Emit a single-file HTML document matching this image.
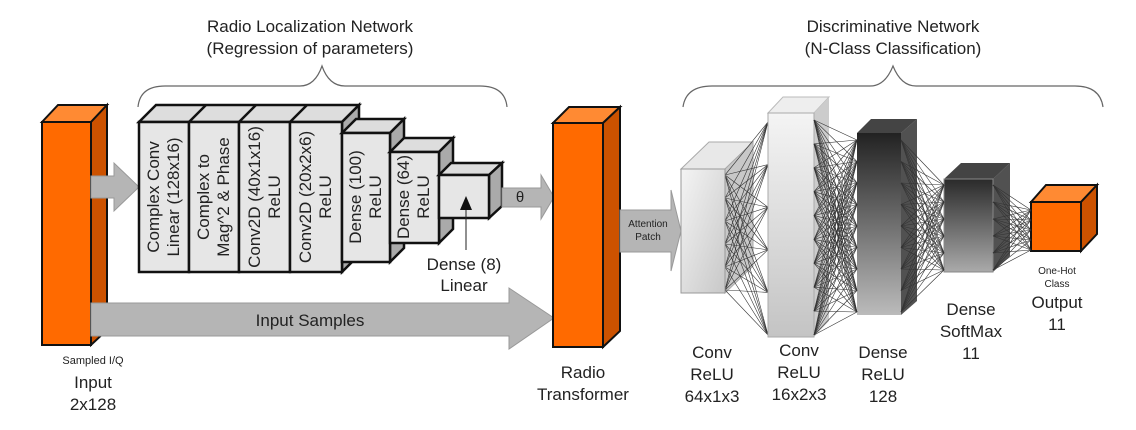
<!DOCTYPE html>
<html><head><meta charset="utf-8"><style>
body{margin:0;background:#fff;width:1136px;height:430px;overflow:hidden}
svg{display:block}
text{font-family:"Liberation Sans",sans-serif;fill:#222}
</style></head><body>
<svg width="1136" height="430" viewBox="0 0 1136 430">
<defs>
<linearGradient id="g1" x1="0" y1="0" x2="1" y2="1"><stop offset="0" stop-color="#f4f4f4"/><stop offset="1" stop-color="#c8c8c8"/></linearGradient>
<linearGradient id="g2" x1="0" y1="0" x2="0" y2="1"><stop offset="0" stop-color="#f4f4f4"/><stop offset="1" stop-color="#c4c4c4"/></linearGradient>
<linearGradient id="g3" x1="0" y1="0" x2="0" y2="1"><stop offset="0" stop-color="#222"/><stop offset="1" stop-color="#bbb"/></linearGradient>
<linearGradient id="g4" x1="0" y1="0" x2="0" y2="1"><stop offset="0" stop-color="#2a2a2a"/><stop offset="1" stop-color="#aaa"/></linearGradient>
</defs>
<text x="310" y="32" font-size="17" text-anchor="middle">Radio Localization Network</text>
<text x="310" y="54" font-size="17" text-anchor="middle">(Regression of parameters)</text>
<text x="893" y="32" font-size="17" text-anchor="middle">Discriminative Network</text>
<text x="893" y="54" font-size="17" text-anchor="middle">(N-Class Classification)</text>
<path d="M138,107 Q140,86 165,86 L300,86 Q315,86 322,66 Q329,86 345,86 L480,86 Q505,86 507,107" fill="none" stroke="#666" stroke-width="1.2"/>
<path d="M683,107 Q686,86 712,86 L870,86 Q885,86 893,66 Q901,86 916,86 L1075,86 Q1100,86 1103,107" fill="none" stroke="#666" stroke-width="1.2"/>

<!-- left orange -->
<polygon points="42,122 58,105 107,105 91,122" fill="#ff8a33" stroke="#111" stroke-width="2"/>
<polygon points="91,122 107,105 107,330 91,345" fill="#cc5200" stroke="#111" stroke-width="2"/>
<rect x="42" y="122" width="49" height="223" fill="#ff6a00" stroke="#111" stroke-width="2"/>
<polygon points="91,176 114,176 114,163 139,187 114,211 114,198 91,198" fill="#b5b5b5" stroke="#999"/>
<polygon points="91,303 509,303 509,288 554,318 509,349 509,336 91,336" fill="#b5b5b5" stroke="#999"/>
<text x="310" y="326" font-size="17" text-anchor="middle">Input Samples</text>

<!-- gray blocks -->
<g stroke="#111" stroke-width="2.5">
<polygon points="139,122 156,105 359,105 342,122" fill="#ddd"/>
<polygon points="342,122 359,105 359,255 342,272" fill="#aaa"/>
<rect x="139" y="122" width="50" height="150" fill="#e6e6e6"/>
<rect x="189" y="122" width="50" height="150" fill="#e6e6e6"/>
<rect x="239" y="122" width="51" height="150" fill="#e6e6e6"/>
<rect x="290" y="122" width="52" height="150" fill="#e6e6e6"/>
<line x1="189" y1="122" x2="206" y2="105"/><line x1="239" y1="122" x2="256" y2="105"/><line x1="290" y1="122" x2="307" y2="105"/>
<polygon points="342,133 356,119 404,119 390,133" fill="#ddd"/>
<polygon points="390,133 404,119 404,248 390,262" fill="#aaa"/>
<rect x="342" y="133" width="48" height="129" fill="#e6e6e6"/>
<polygon points="390,152 404,138 453,138 439,152" fill="#ddd"/>
<polygon points="439,152 453,138 453,229 439,243" fill="#aaa"/>
<rect x="390" y="152" width="49" height="91" fill="#e6e6e6"/>
<polygon points="439,175 451,163 502,163 489,175" fill="#ddd"/>
<polygon points="489,175 502,163 502,206 489,218" fill="#aaa"/>
<rect x="439" y="175" width="50" height="43" fill="#e6e6e6"/>
</g>
<g font-size="17" text-anchor="middle">
<text transform="translate(163,197) rotate(-90)"><tspan x="0" y="-4">Complex Conv</tspan><tspan x="0" y="16">Linear (128x16)</tspan></text>
<text transform="translate(213,197) rotate(-90)"><tspan x="0" y="-4">Complex to</tspan><tspan x="0" y="16">Mag^2  &amp; Phase</tspan></text>
<text transform="translate(264,197) rotate(-90)"><tspan x="0" y="-4">Conv2D (40x1x16)</tspan><tspan x="0" y="16">ReLU</tspan></text>
<text transform="translate(315,197) rotate(-90)"><tspan x="0" y="-4">Conv2D (20x2x6)</tspan><tspan x="0" y="16">ReLU</tspan></text>
<text transform="translate(365,197) rotate(-90)"><tspan x="0" y="-4">Dense (100)</tspan><tspan x="0" y="16">ReLU</tspan></text>
<text transform="translate(413,197) rotate(-90)"><tspan x="0" y="-4">Dense (64)</tspan><tspan x="0" y="16">ReLU</tspan></text>
</g>
<line x1="466" y1="250" x2="466" y2="208" stroke="#222" stroke-width="1"/>
<polygon points="466,196 460,210 472,210" fill="#111"/>
<text x="464" y="270" font-size="17" text-anchor="middle">Dense (8)</text>
<text x="464" y="291" font-size="17" text-anchor="middle">Linear</text>
<polygon points="502,188 541,188 541,175 554,197 541,219 541,207 502,207" fill="#b5b5b5" stroke="#999"/>
<text x="520" y="202" font-size="15" text-anchor="middle">θ</text>

<!-- middle orange -->
<polygon points="553,123 569,107 620,107 603,123" fill="#ff8a33" stroke="#111" stroke-width="2"/>
<polygon points="603,123 620,107 620,331 603,347" fill="#cc5200" stroke="#111" stroke-width="2"/>
<rect x="553" y="123" width="50" height="224" fill="#ff6a00" stroke="#111" stroke-width="2"/>
<text x="583" y="378" font-size="17" text-anchor="middle">Radio</text>
<text x="583" y="400" font-size="17" text-anchor="middle">Transformer</text>
<text x="93" y="364" font-size="11" text-anchor="middle">Sampled I/Q</text>
<text x="93" y="388" font-size="17" text-anchor="middle">Input</text>
<text x="93" y="410" font-size="17" text-anchor="middle">2x128</text>
<polygon points="620,210 671,210 671,190 681,231 671,271 671,252 620,252" fill="#b5b5b5" stroke="#999"/>
<text x="648" y="227" font-size="10" text-anchor="middle">Attention</text>
<text x="648" y="240" font-size="10" text-anchor="middle">Patch</text>

<!-- conv1 -->
<polygon points="681,169 709,142 753,142 725,169" fill="#e8e8e8" stroke="#aaa"/>
<polygon points="725,169 753,142 753,266 725,293" fill="#c8c8c8" stroke="#aaa"/>
<g id="lines" stroke="#333" stroke-width="0.6"></g>
<rect x="681" y="169" width="44" height="124" fill="url(#g1)" stroke="#999"/>
<!-- conv2 -->
<polygon points="768,113 783,97 829,97 814,113" fill="#eee" stroke="#bbb"/>
<polygon points="814,113 829,97 829,321 814,337" fill="#ccc"/>
<rect x="768" y="113" width="46" height="224" fill="url(#g2)" stroke="#aaa"/>
<!-- dense -->
<polygon points="857,133 871,119 917,119 901,133" fill="#444"/>
<polygon points="901,133 917,119 917,301 901,315" fill="#333" opacity="0.85"/>
<rect x="857" y="133" width="44" height="182" fill="url(#g3)"/>
<!-- softmax -->
<polygon points="944,179 961,163 1010,163 993,179" fill="#444"/>
<polygon points="993,179 1010,163 1010,256 993,272" fill="#333" opacity="0.85"/>
<rect x="944" y="179" width="49" height="93" fill="url(#g4)" stroke="#888"/>
<!-- output cube -->
<polygon points="1031,202 1046,185 1097,185 1081,202" fill="#ff8a33" stroke="#111" stroke-width="2"/>
<polygon points="1081,202 1097,185 1097,234 1081,251" fill="#cc5200" stroke="#111" stroke-width="2"/>
<rect x="1031" y="202" width="50" height="49" fill="#ff6a00" stroke="#111" stroke-width="2"/>

<g font-size="17" text-anchor="middle">
<text x="712" y="358">Conv</text><text x="712" y="380">ReLU</text><text x="712" y="402">64x1x3</text>
<text x="799" y="356">Conv</text><text x="799" y="378">ReLU</text><text x="799" y="400">16x2x3</text>
<text x="883" y="358">Dense</text><text x="883" y="380">ReLU</text><text x="883" y="402">128</text>
<text x="971" y="315">Dense</text><text x="971" y="337">SoftMax</text><text x="971" y="359">11</text>
<text x="1057" y="308">Output</text><text x="1057" y="330">11</text>
</g>
<text x="1057" y="274" font-size="10" text-anchor="middle">One-Hot</text>
<text x="1057" y="287" font-size="10" text-anchor="middle">Class</text>
</svg>
<script>
(function(){
var g=document.getElementById('lines'),ns='http://www.w3.org/2000/svg';
function pts(a,b,n){var r=[];for(var i=0;i<n;i++)r.push(a+(b-a)*i/(n-1));return r;}
function conn(x1,ys1,x2,ys2,par){ys1.forEach(function(a){ys2.forEach(function(b){var l=document.createElementNS(ns,'line');l.setAttribute('x1',x1);l.setAttribute('y1',a);l.setAttribute('x2',x2);l.setAttribute('y2',b);(par||g).appendChild(l);});});}
var top=document.querySelector('svg');
var g2=document.createElementNS(ns,'g');g2.setAttribute('stroke','#333');g2.setAttribute('stroke-width','0.6');top.appendChild(g2);
conn(725,pts(175,290,6),768,pts(122,335,6));
conn(814,pts(120,335,10),857,pts(140,312,9),g2);
conn(901,pts(140,312,9),944,pts(185,270,6),g2);
conn(993,pts(185,270,6),1031,pts(210,250,5),g2);
})();
</script>
</body></html>
